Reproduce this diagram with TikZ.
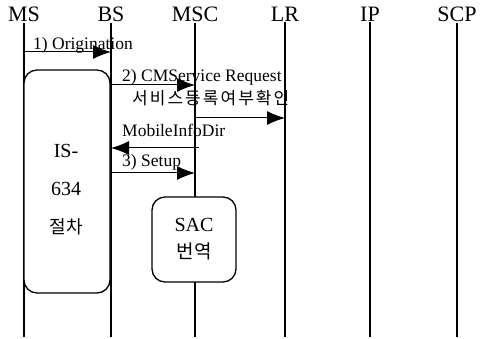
\documentclass[tikz,border=0pt]{standalone}
\usepackage{fontspec}
\setmainfont{Liberation Serif}
\newfontfamily\hangul{Noto Sans CJK KR}
\newfontfamily\hangulwide[LetterSpace=12]{Noto Sans CJK KR}
\usetikzlibrary{arrows.meta}

\begin{document}
\begin{tikzpicture}[
		x=1pt, y=-1pt,
		entity/.style={font=\fontsize{22}{24}\selectfont, inner sep=1pt},
		life/.style={draw=black, line width=1.3pt},
		msg/.style={-{Latex[length=18pt,width=14pt]}, line width=1pt},
		lbl/.style={font=\fontsize{17.5}{19}\selectfont, inner sep=0pt},
		procbox/.style={draw=black, fill=white, line width=1.3pt, rounded corners=13pt},
		boxtext/.style={align=center, inner sep=0pt},
	]
		\useasboundingbox (0,0) rectangle (487,339);
		% entities along the top
		\node[entity] (ms) at (24,14) {MS};
		\node[entity] (bs) at (111,14) {BS};
		\node[entity] (msc) at (195,14) {MSC};
		\node[entity] (lr) at (285,14) {LR};
		\node[entity] (ip) at (370,14) {IP};
		\node[entity] (scp) at (457,14) {SCP};
		\coordinate (bottom) at (0,337);
		\foreach \e in {ms,bs,msc,lr,ip,scp}
			\draw[life] (\e.south) -- (\e.south |- bottom);

		% IS-634 procedure between MS and BS
		\node[procbox, minimum width=86pt, minimum height=223pt] (is) at (67,181.5) {};
		\node[boxtext, font=\fontsize{20}{38}\selectfont] (istext) at (66,190)
			{IS-\\634\\{\hangul\fontsize{18}{38}\selectfont 절차}};
		% SAC translation at the MSC
		\node[procbox, minimum width=84pt, minimum height=85pt] (sac) at (194,239.5) {};
		\node[boxtext, font=\fontsize{20}{27}\selectfont] (sactext) at (sac.center)
			{SAC\\{\hangul\fontsize{19}{27}\selectfont 번역}};

		% messages
		\coordinate (m1) at (0,52);
		\coordinate (m2) at (0,85);
		\coordinate (m3) at (0,118);
		\coordinate (m4) at (0,148);
		\coordinate (m5) at (0,173);
		\draw[msg] (ms |- m1) -- (bs |- m1);
		\node[lbl, anchor=base west] (l1) at (33,50) {1) Origination};
		\draw[msg] (bs |- m2) -- (msc |- m2);
		\node[lbl, anchor=base west] (l2) at (122,82) {2) CMService Request};
		\draw[msg] (msc |- m3) -- (lr |- m3);
		\node[lbl, anchor=west, font=\hangulwide\fontsize{17}{19}\selectfont] (l3) at (132,98) {서비스등록여부확인};
		\draw[msg] ([xshift=4pt]msc |- m4) -- (bs |- m4);
		\node[lbl, anchor=base west] (l4) at (122,137) {MobileInfoDir};
		\draw[msg] (bs |- m5) -- (msc |- m5);
		\node[lbl, anchor=base west] (l5) at (122,167) {3) Setup};
	\end{tikzpicture}
\end{document}
